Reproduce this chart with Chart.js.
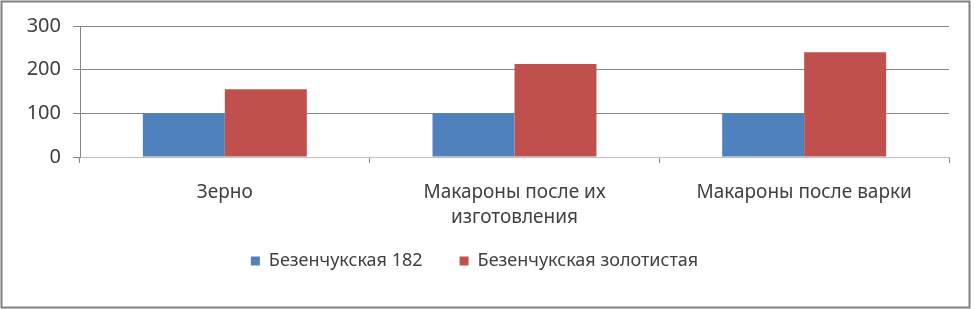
<!DOCTYPE html>
<html>
<head>
<meta charset="utf-8">
<script src="https://cdn.jsdelivr.net/npm/chart.js@4/dist/chart.umd.min.js"></script>
<style>
  html, body { margin: 0; padding: 0; background: #fff; }
  #wrap { position: relative; width: 975px; height: 309px; }
</style>
</head>
<body>
<div id="wrap"><canvas id="chart" width="975" height="309"></canvas></div>
<script>
// данные диаграммы
const categories = ["Зерно", ["Макароны после их", "изготовления"], "Макароны после варки"]
const seriesNames = ["Безенчукская 182", "Безенчукская золотистая"]
const series182 = [100, 100, 100]
const seriesGold = [155, 213, 240]
const yTicks = [0, 100, 200, 300]

const FONT = "'Noto Sans', sans-serif"
const TEXT = "#404040"
const GRID = "#868686"

/**
 * Рамка вокруг всей диаграммы
 */
const framePlugin = {
  id: "frame",
  afterDraw(chart) {
    const ctx = chart.ctx
    ctx.save()
    ctx.strokeStyle = "#808080"
    ctx.lineWidth = 2
    ctx.strokeRect(1.5, 1.5, 968, 306)
    ctx.restore()
  },
}

new Chart(document.getElementById("chart"), {
  type: "bar",
  data: {
    labels: categories,
    datasets: [
      { label: seriesNames[0], data: series182, backgroundColor: "#4F81BD" },
      { label: seriesNames[1], data: seriesGold, backgroundColor: "#C0504D" },
    ],
  },
  options: {
    responsive: false,
    animation: false,
    events: [],
    layout: { padding: { left: 0, right: 26, top: 26, bottom: 29 } },
    datasets: {
      bar: { categoryPercentage: 0.566, barPercentage: 1.0 },
    },
    scales: {
      x: {
        grid: {
          offset: true,
          drawOnChartArea: false,
          tickLength: 6,
          color: GRID,
        },
        border: { color: "#bfbfbf" },
        ticks: {
          color: TEXT,
          font: { family: FONT, size: 19, lineHeight: 1.32 },
          padding: 17,
          maxRotation: 0,
          autoSkip: false,
        },
        afterFit(scale) {
          scale.height = 85
        },
      },
      y: {
        min: 0,
        max: 300,
        afterBuildTicks(scale) {
          scale.ticks = yTicks.map((v) => ({ value: v }))
        },
        grid: { color: GRID, tickLength: 7 },
        border: { color: GRID },
        ticks: {
          color: TEXT,
          font: { family: FONT, size: 20 },
          padding: 12,
        },
        afterFit(scale) {
          scale.width = 80
        },
      },
    },
    plugins: {
      legend: {
        position: "bottom",
        labels: {
          color: TEXT,
          font: { family: FONT, size: 18 },
          boxWidth: 9,
          boxHeight: 9,
          padding: 10,
          // промежуток между элементами легенды как в оригинале
          generateLabels(chart) {
            const items = Chart.defaults.plugins.legend.labels.generateLabels(chart)
            items.forEach((item, i) => {
              if (i < items.length - 1) item.text = item.text + "\u2003\u2002"
            })
            return items
          },
        },
      },
      tooltip: { enabled: false },
    },
  },
  plugins: [framePlugin],
})
</script>
</body>
</html>
